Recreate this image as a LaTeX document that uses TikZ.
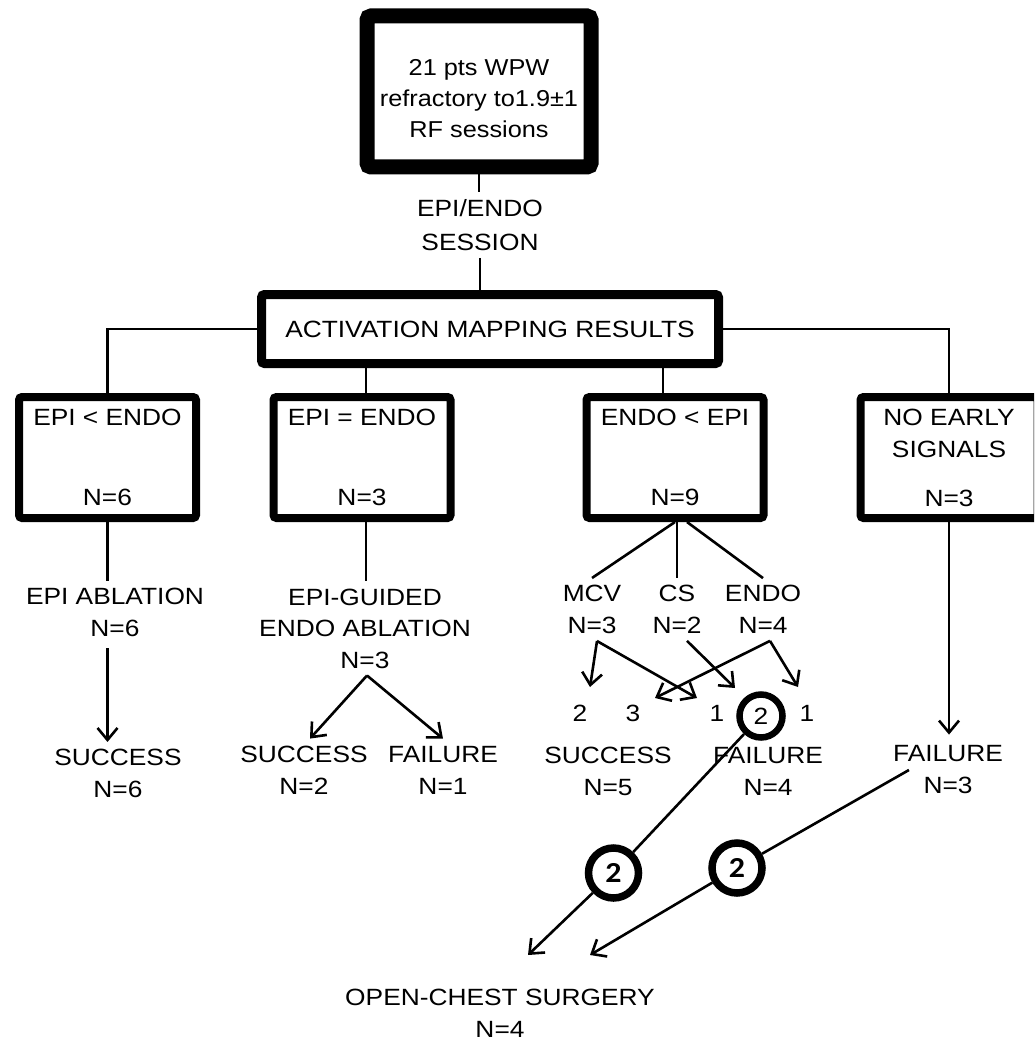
\documentclass[tikz,border=0pt]{standalone}
\usepackage{fontspec}
\setmainfont{Liberation Sans}[FakeStretch=1.12]
\newfontfamily\topfont{Liberation Sans}[FakeStretch=1.1]
\newfontfamily\circfont{Carlito}[FakeStretch=1.1]
\usetikzlibrary{arrows.meta,calc}
\begin{document}
\begin{tikzpicture}[x=1pt,y=-1pt,
  every node/.style={font=\fontsize{23.5}{32}\selectfont, text=black},
  lbl/.style={align=center, inner sep=7pt},
  bigbox/.style={draw, line width=15pt, rounded corners=4pt, minimum width=224pt, minimum height=151pt, inner sep=0pt},
  midbox/.style={draw, line width=9pt, rounded corners=3pt, inner sep=0pt, minimum width=457pt, minimum height=69pt},
  subbox/.style={draw, line width=8pt, rounded corners=3pt, align=center, inner sep=0pt, minimum width=177pt, minimum height=121pt},
  conn/.style={line width=2.6pt},
  arr/.style={line width=2.6pt, -{Straight Barb[length=12pt,width=20pt]}},
  ring/.style={draw, circle, line width=6.5pt, minimum size=43pt, inner sep=0pt},
  ringb/.style={draw, circle, line width=7.5pt, minimum size=50pt, inner sep=0pt, font=\circfont\bfseries\fontsize{29}{29}\selectfont},
  num/.style={inner sep=2pt}
]
\useasboundingbox (0,0) rectangle (1034,1043);
\clip (0,0) rectangle (1034,1043);

% top
\node[bigbox] (top) at (479,91.5) {};
\node[lbl, font=\topfont\fontsize{23}{31}\selectfont] (toptxt) at (479,99) {21 pts WPW\\refractory to1.9±1\\RF sessions};
\node[lbl, font=\fontsize{23.5}{34}\selectfont] (ses) at (480,225) {EPI/ENDO\\SESSION};
\node[midbox] (act) at (490,329) {ACTIVATION MAPPING RESULTS};

\draw[conn] (top.south) -- (top.south |- ses.north);
\draw[conn] (ses.south) -- (ses.south |- act.north);

% level 2
\node[subbox] (b1) at (107.5,457.5) {EPI < ENDO\\[48pt]N=6};
\node[subbox] (b2) at (362,457.5) {EPI = ENDO\\[48pt]N=3};
\node[subbox] (b3) at (675,457.5) {ENDO < EPI\\[48pt]N=9};
\node[subbox] (b4) at (949,457.5) {NO EARLY\\SIGNALS\\[17pt]N=3};

\draw[conn] (act.west) -| (b1.north);
\draw[conn] (act.east) -| (b4.north);
\draw[conn] ([xshift=4pt]b2.north) -- ([xshift=4pt]b2.north |- act.south);
\draw[conn] ([xshift=-12pt]b3.north) -- ([xshift=-12pt]b3.north |- act.south);

% left branch
\node[lbl] (abl) at (115,612.5) {EPI ABLATION\\N=6};
\node[lbl] (s1) at (118,773.5) {SUCCESS\\N=6};
\draw[conn] (b1.south) -- (b1.south |- abl.north);
\draw[arr] ([yshift=-4pt]abl.south -| b1.south) -- (b1.south |- s1.north);

% EPI = ENDO branch
\node[lbl, font=\fontsize{23.5}{31.5}\selectfont] (gui) at (365,628.5) {EPI-GUIDED\\ENDO ABLATION\\N=3};
\node[lbl] (s2) at (304,770) {SUCCESS\\N=2};
\node[lbl] (f2) at (443,770) {FAILURE\\N=1};
\draw[conn] ([xshift=4pt]b2.south) -- ([xshift=4pt]b2.south |- gui.north);
\draw[arr] ([xshift=2pt]gui.south) -- ([xshift=6pt]s2.north);
\draw[arr] ([xshift=2pt]gui.south) -- (f2.north);

% ENDO < EPI branch
\node[lbl] (mcv) at (592,609.5) {MCV\\N=3};
\node[lbl] (cs) at (677,609.5) {CS\\N=2};
\node[lbl] (endo) at (763,609.5) {ENDO\\N=4};
\draw[conn] (b3.south) -- (mcv.north);
\draw[conn] (cs.north |- b3.south) -- (cs.north);
\draw[conn] ([xshift=12pt]b3.south) -- (endo.north);

\node[num] (n2a) at (580,713) {2};
\node[num] (n3) at (633,713) {3};
\node[num] (n1a) at (717,713) {1};
\node[ring] (c2) at (761,716) {2};
\node[num] (n1b) at (807,713) {1};

\coordinate (t1) at (590,687);
\coordinate (t2) at (697,698);
\coordinate (t3) at (735,688);
\coordinate (t4) at (655,698);
\coordinate (t5) at (798,687);
\draw[arr] ([xshift=5pt]mcv.south) -- (t1);
\draw[arr] ([xshift=5pt]mcv.south) -- (t2);
\draw[arr] ([xshift=10pt]cs.south) -- (t3);
\draw[arr] ([xshift=7pt]endo.south) -- (t4);
\draw[arr] ([xshift=7pt]endo.south) -- (t5);

\node[lbl] (s3) at (608,771) {SUCCESS\\N=5};
\node[lbl] (f3) at (768,771) {FAILURE\\N=4};

% NO EARLY branch
\node[lbl] (f4) at (948,770) {FAILURE\\N=3};
\draw[arr] (b4.south) -- ([yshift=4pt]b4.south |- f4.north);

% open chest
\node[ringb] (d1) at (613.5,873) {2};
\node[ringb] (d2) at (737,868) {2};
\node[lbl] (ocs) at (500,1013.5) {OPEN-CHEST SURGERY\\N=4};
\coordinate (t6) at (528,955);
\coordinate (t7) at (590,955);
\draw[conn] (c2) -- (d1);
\draw[arr] (d1) -- (t6);
\draw[conn] ([xshift=23pt]f4.west) -- (d2);
\draw[arr] (d2) -- (t7);
\end{tikzpicture}
\end{document}
